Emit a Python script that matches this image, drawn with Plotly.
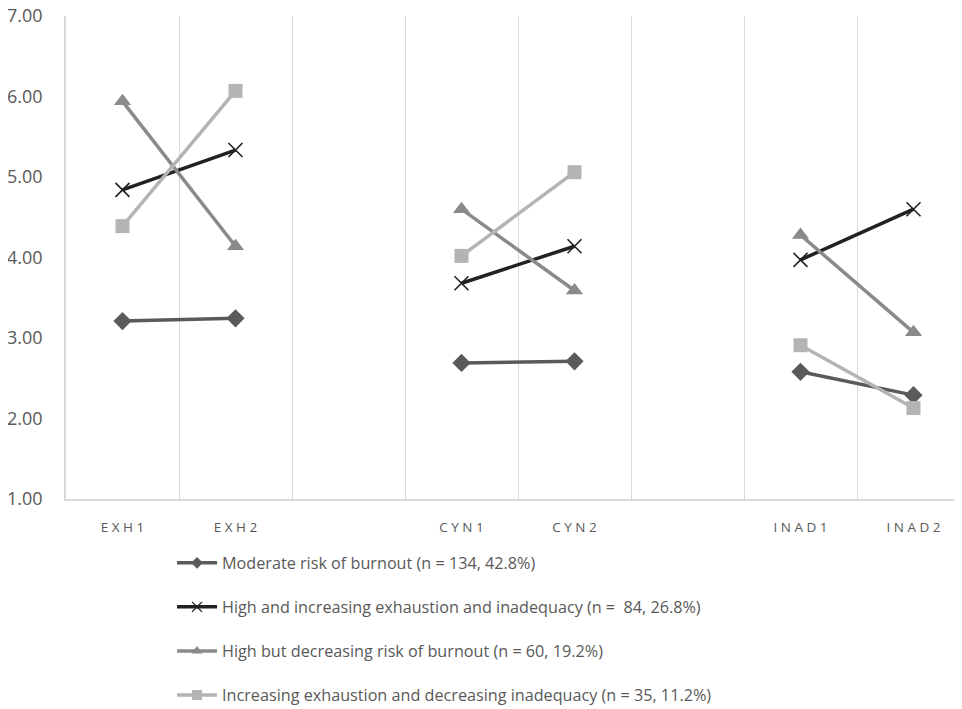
import plotly.graph_objects as go

categories = ["EXH1", "EXH2", " ", "CYN1", "CYN2", "  ", "INAD1", "INAD2"]
tick_labels = ["E X H 1", "E X H 2", "", "C Y N 1", "C Y N 2", "", "I N A D 1", "I N A D 2"]

moderate = [3.21, 3.245, None, 2.69, 2.71, None, 2.58, 2.29]
high_increasing = [4.84, 5.335, None, 3.68, 4.14, None, 3.97, 4.60]
high_decreasing = [5.94, 4.14, None, 4.60, 3.59, None, 4.28, 3.07]
incr_exh_decr_inad = [4.39, 6.07, None, 4.02, 5.06, None, 2.91, 2.13]

series_names = [
    "Moderate risk of burnout (n = 134, 42.8%)",
    "High and increasing exhaustion and inadequacy (n =  84, 26.8%)",
    "High but decreasing risk of burnout (n = 60, 19.2%)",
    "Increasing exhaustion and decreasing inadequacy (n = 35, 11.2%)",
]

fig = go.Figure()

styles = [
    dict(color="#5a5a5a", symbol="diamond", size=14, lsize=9, mline=None),
    dict(color="#222222", symbol="x-thin-open", size=14, lsize=10, mline=1.6),
    dict(color="#8a8a8a", symbol="triangle-up", size=15, lsize=10, mline=None),
    dict(color="#b4b4b4", symbol="square", size=14, lsize=10, mline=None),
]

for i, (vals, name, st) in enumerate(zip(
        [moderate, high_increasing, high_decreasing, incr_exh_decr_inad], series_names, styles)):
    marker = dict(symbol=st["symbol"], size=st["size"], color=st["color"])
    lmarker = dict(symbol=st["symbol"], size=st["lsize"], color=st["color"])
    if st["mline"]:
        marker["line"] = dict(color=st["color"], width=st["mline"])
        lmarker["line"] = dict(color=st["color"], width=1.3)
    fig.add_trace(go.Scatter(
        x=categories, y=vals, name=name, mode="lines+markers",
        line=dict(color=st["color"], width=3.5),
        marker=marker, connectgaps=False,
        legendgroup=f"g{i}", showlegend=False,
    ))
    # legend entry (smaller marker, like the reference legend)
    fig.add_trace(go.Scatter(
        x=[categories[0]], y=[None], name=name, mode="lines+markers",
        line=dict(color=st["color"], width=3.5),
        marker=lmarker, legendgroup=f"g{i}", showlegend=True,
    ))

fig.update_layout(
    width=962, height=709,
    margin=dict(l=58, r=0, t=8, b=218, autoexpand=False),
    paper_bgcolor="white", plot_bgcolor="white",
    font=dict(family="Open Sans", color="#595959", size=16),
    showlegend=True,
    legend=dict(
        xref="container", yref="container",
        x=0.1705, y=0.2415, xanchor="left", yanchor="top",
        font=dict(size=16.2, color="#595959"),
        tracegroupgap=20, itemwidth=40,
        bgcolor="rgba(0,0,0,0)",
    ),
)

fig.update_xaxes(
    type="category", categoryorder="array", categoryarray=categories,
    tickvals=categories, ticktext=tick_labels,
    range=[-0.5, 7.5], tickangle=0,
    tickson="boundaries", ticks="", showgrid=True, gridcolor="#d9d9d9", gridwidth=1,
    showline=True, linecolor="#d9d9d9", linewidth=1.5,
    tickfont=dict(size=13.5, color="#595959"),
    ticklabelstandoff=15,
    zeroline=False,
)
fig.update_yaxes(
    range=[1, 7], dtick=1, tickformat=".2f",
    showgrid=False, zeroline=False,
    showline=True, linecolor="#d9d9d9", linewidth=1.5,
    ticks="", ticklabelstandoff=18, ticklabeloverflow="allow",
    tickfont=dict(size=18, color="#595959"),
)

fig.write_html("out.html")
